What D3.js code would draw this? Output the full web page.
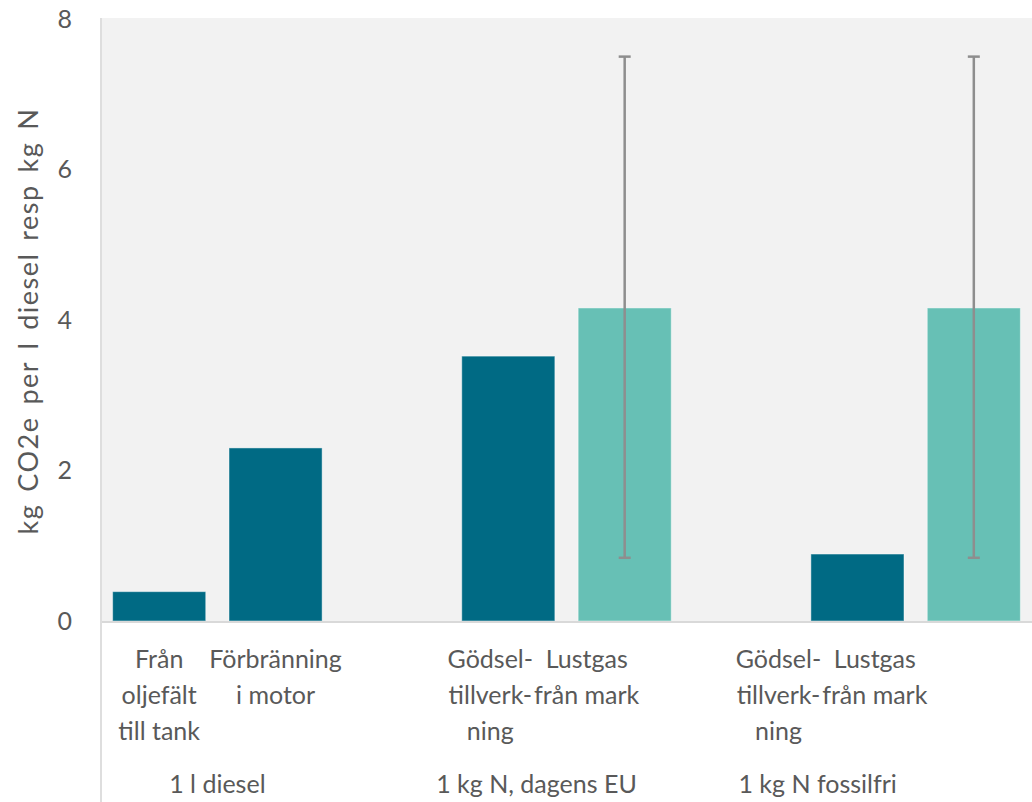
<!DOCTYPE html>
<html lang="sv">
<head>
<meta charset="UTF-8">
<title>kg CO2e per l diesel resp kg N</title>
<script src="https://d3js.org/d3.v7.min.js"></script>
<style>
  body { margin: 0; background: #fff; }
  text { font-family: Lato, "Open Sans", sans-serif; fill: #595959; }
</style>
</head>
<body>
<div id="chart"></div>
<script>
// category slots (empty slots are the gaps between groups)
var categories = [
  ["Från", "oljefält", "till tank"],
  ["Förbränning", "i motor"],
  [],
  ["Gödsel-", "tillverk-", "ning"],
  ["Lustgas", "från mark"],
  [],
  ["Gödsel-", "tillverk-", "ning"],
  ["Lustgas", "från mark"]
];
var values   = [0.39, 2.30, null, 3.52, 4.16, null, 0.89, 4.16];
var kind     = ["prod", "prod", null, "prod", "n2o", null, "prod", "n2o"];
var errLow   = [null, null, null, null, 0.84, null, null, 0.84];
var errHigh  = [null, null, null, null, 7.5, null, null, 7.5];
var groups   = ["1 l diesel", "1 kg N, dagens EU", "1 kg N fossilfri"];
var groupSlots = [[0, 1], [3, 4], [6, 7]];
var yTicks   = [0, 2, 4, 6, 8];

var W = 1032, H = 802;
var plot = {left: 101, right: 1032, top: 19, bottom: 621};

// the original labels sit a bit left of their bars in the 2nd and 3rd group
var labelDx = [0, 0, 0, -18, -38, 0, -79, -99];
var groupDx = [0, -30, -98];

var colors = {prod: "#006A84", n2o: "#67C0B5"};

var svg = d3.select("#chart").append("svg")
  .attr("width", W).attr("height", H);

var x = d3.scaleBand()
  .domain(d3.range(categories.length))
  .range([plot.left, plot.right])
  .paddingInner(0.2)
  .paddingOuter(0.1);

var y = d3.scaleLinear()
  .domain([0, 8])
  .range([plot.bottom, plot.top]);

// plot background
svg.append("rect")
  .attr("x", plot.left).attr("y", y(8) - 1)
  .attr("width", plot.right - plot.left)
  .attr("height", plot.bottom - y(8) + 1)
  .attr("fill", "#f2f2f2");

// bars
var idx = d3.range(values.length).filter(function(i) { return values[i] != null; });
svg.append("g").selectAll("rect")
  .data(idx)
  .enter().append("rect")
    .attr("x", function(i) { return x(i); })
    .attr("y", function(i) { return y(values[i]); })
    .attr("width", x.bandwidth())
    .attr("height", function(i) { return y(0) - y(values[i]); })
    .attr("fill", function(i) { return colors[kind[i]]; })
    .attr("stroke", "#ffffff")
    .attr("stroke-opacity", 0.45)
    .attr("stroke-width", 1);

// error bars
var eb = svg.append("g").attr("stroke", "#8e8e8e").attr("stroke-width", 2.5);
var eIdx = d3.range(errHigh.length).filter(function(i) { return errHigh[i] != null; });
eIdx.forEach(function(i) {
  var cx = x(i) + x.bandwidth() / 2;
  eb.append("line")
    .attr("x1", cx).attr("x2", cx)
    .attr("y1", y(errLow[i])).attr("y2", y(errHigh[i]));
  [errLow[i], errHigh[i]].forEach(function(v) {
    eb.append("line")
      .attr("x1", cx - 6).attr("x2", cx + 6)
      .attr("y1", y(v)).attr("y2", y(v));
  });
});

// axis lines
svg.append("line")
  .attr("x1", plot.left).attr("x2", plot.right)
  .attr("y1", y(0) + 1).attr("y2", y(0) + 1)
  .attr("stroke", "#d9d9d9").attr("stroke-width", 2);
svg.append("line")
  .attr("x1", plot.left).attr("x2", plot.left)
  .attr("y1", y(8) - 1).attr("y2", H)
  .attr("stroke", "#dedede").attr("stroke-width", 2);

// y axis
var yAxis = svg.append("g")
  .attr("transform", "translate(" + plot.left + ",0)")
  .call(d3.axisLeft(y).tickValues(yTicks).tickSize(0).tickPadding(29));
yAxis.select(".domain").remove();
yAxis.selectAll("text")
  .style("font-family", "Lato, sans-serif")
  .style("font-size", "25px")
  .attr("fill", "#595959");

svg.append("text")
  .attr("transform", "translate(27,321) rotate(-90)")
  .attr("text-anchor", "middle")
  .attr("dominant-baseline", "central")
  .style("font-size", "27px")
  .style("letter-spacing", "1.5px")
  .style("word-spacing", "3.5px")
  .text("kg CO2e per l diesel resp kg N");

// category labels
var lab = svg.append("g").attr("text-anchor", "middle").style("font-size", "25px");
categories.forEach(function(lines, i) {
  var cx = x(i) + x.bandwidth() / 2 + labelDx[i];
  lines.forEach(function(t, k) {
    lab.append("text")
      .attr("x", cx)
      .attr("y", 668 + k * 36)
      .text(t);
  });
});

// group labels
groups.forEach(function(g, j) {
  var s = groupSlots[j];
  var cx = (x(s[0]) + x(s[1]) + x.bandwidth()) / 2 + groupDx[j];
  lab.append("text")
    .attr("x", cx)
    .attr("y", 793)
    .text(g);
});
</script>
</body>
</html>
